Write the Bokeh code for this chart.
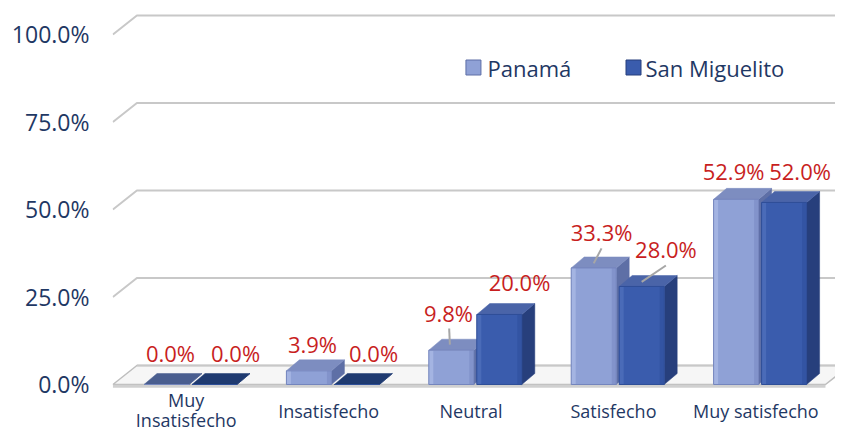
from bokeh.plotting import figure
from bokeh.models import Range1d, FixedTicker, PrintfTickFormatter, ColumnDataSource
from bokeh.core.properties import value
from bokeh.embed import file_html
from bokeh.resources import INLINE

# ---------------- data ----------------
categories = ["Muy Insatisfecho", "Insatisfecho", "Neutral", "Satisfecho", "Muy satisfecho"]
cat_display = ["Muy\nInsatisfecho", "Insatisfecho", "Neutral", "Satisfecho", "Muy satisfecho"]
panama = [0.0, 3.9, 9.8, 33.3, 52.9]
san_miguelito = [0.0, 0.0, 20.0, 28.0, 52.0]
series_names = ["Panamá", "San Miguelito"]
y_ticks = [0, 25, 50, 75, 100]

# ---------------- style / geometry ----------------
FONT = "Open Sans"
NAVY = "#1F3864"
RED = "#C81E1E"
GRID = "#C8C8C8"
BAR_W = 0.316
GAP = 0.0105
BDX, BDY = 0.0913, 3.14     # bar depth (x units, % units)
WDX, WDY = 0.1685, 5.43     # wall depth

styles = {
    "Panamá": dict(front="#8FA1D6", hi="#A4B4E2", sh="#8293CB", top="#7D8DC0",
                   side="#5E6FA6", zero="#4A5E8F", edge="#7485BD"),
    "San Miguelito": dict(front="#3A5CAD", hi="#4A6BB8", sh="#3354A3", top="#4A64A8",
                          side="#273F7C", zero="#1F3A70", edge="#2F4E98"),
}

# label nudges (category units, % units) relative to bar front-centre / bar value
pan_nudge = [(0.028, 8.9), (0.025, 7.8), (-0.02, 10.5), (0.055, 10.4), (-0.018, 8.2)]
sm_nudge = [(0.148, 8.9), (0.117, 8.9), (0.142, 9.4), (0.17, 10.8), (0.112, 9.1)]
pan_leader = [False, False, True, True, False]
sm_leader = [False, False, False, True, False]

x0, x1 = -0.5478, 4.5295
p = figure(width=835, height=431, output_backend="svg", toolbar_location=None,
           x_range=Range1d(x0, x1), y_range=Range1d(-13.4286, 109.714),
           x_axis_location=None, min_border_left=112, min_border_right=0,
           min_border_top=0, min_border_bottom=0)
p.xgrid.visible = False
p.ygrid.visible = False
p.outline_line_color = None
p.background_fill_color = "white"
p.border_fill_color = "white"

ax = p.yaxis[0]
ax.ticker = FixedTicker(ticks=y_ticks)
ax.formatter = PrintfTickFormatter(format="%.1f%%")
ax.axis_line_color = None
ax.major_tick_line_color = None
ax.minor_tick_line_color = None
ax.major_tick_out = 0
ax.major_tick_in = 0
ax.major_label_standoff = 23
ax.major_label_text_font = FONT
ax.major_label_text_font_size = "23px"
ax.major_label_text_color = NAVY

# ---------------- floor & walls ----------------
fl, fr = -0.545, 4.459
p.patch([fl, fr, fr + WDX, fl + WDX], [0, 0, WDY, WDY],
        fill_color="#F6F6F6", line_color="#BEBEBE", line_width=1.5)
p.line([fl, fr], [-0.5, -0.5], line_color="#D0D0D0", line_width=3)

gx, gy = [], []
for g in y_ticks:
    if g == 0:
        gx.append([fl + WDX, x1 + 0.1]); gy.append([WDY, WDY])
    else:
        gx.append([fl, fl + WDX, x1 + 0.1]); gy.append([g, g + WDY, g + WDY])
p.multi_line(gx, gy, line_color=GRID, line_width=2)

# ---------------- bars ----------------
def draw_series(vals, name, left_off):
    st = styles[name]
    lefts = [i + left_off for i in range(len(vals))]
    rights = [l + BAR_W for l in lefts]
    side_xs, side_ys, top_xs, top_ys, top_cols = [], [], [], [], []
    for l, r, v in zip(lefts, rights, vals):
        side_xs.append([r, r + BDX, r + BDX, r]); side_ys.append([0, BDY, v + BDY, v])
        top_xs.append([l, l + BDX, r + BDX, r]); top_ys.append([v, v + BDY, v + BDY, v])
        top_cols.append(st["zero"] if v == 0 else st["top"])
    p.patches(side_xs, side_ys, fill_color=st["side"], line_color=st["side"], line_width=0.5)
    p.patches(xs="xs", ys="ys", fill_color="c", line_color="c", line_width=0.5,
              source=ColumnDataSource(dict(xs=top_xs, ys=top_ys, c=top_cols)))
    zeros = [0] * len(vals)
    p.quad(left=lefts, right=rights, bottom=zeros, top=vals, fill_color=st["front"], line_color=None)
    # soft shading strips on the front face (left highlight, right shade)
    p.quad(left=lefts, right=[l + 0.1 * BAR_W for l in lefts], bottom=zeros, top=vals,
           fill_color=st["hi"], line_color=None)
    p.quad(left=[r - 0.1 * BAR_W for r in rights], right=rights, bottom=zeros, top=vals,
           fill_color=st["sh"], line_color=None)
    p.quad(left=lefts, right=rights, bottom=zeros, top=vals,
           fill_color=None, line_color=st["edge"], line_width=1)
    return [(l + r) / 2 for l, r in zip(lefts, rights)]

pan_c = draw_series(panama, "Panamá", -GAP - BAR_W)
sm_c = draw_series(san_miguelito, "San Miguelito", GAP)

# ---------------- data labels ----------------
lx, ly, lt = [], [], []
ldx, ldy = [], []
for cs, vals, nud, lead in ((pan_c, panama, pan_nudge, pan_leader),
                            (sm_c, san_miguelito, sm_nudge, sm_leader)):
    for c, v, (dx, dy), ld in zip(cs, vals, nud, lead):
        tx, ty = c + dx, v + dy
        lx.append(tx); ly.append(ty); lt.append(f"{v:.1f}%")
        if ld and v > 20:
            ldx.append([tx, c]); ldy.append([ty - 4.8, v + 1.3])
        elif ld:
            ldx.append([tx + 0.005, c - 0.01]); ldy.append([ty - 4.3, v + 1.6])
p.multi_line(ldx, ldy, line_color="#A6A6A6", line_width=2)
p.text(lx, ly, text=lt, text_font=value(FONT), text_font_size="22px",
       text_color=RED, text_align="center", text_baseline="middle")

# ---------------- category labels ----------------
single_x, single_t, first_x, first_t, second_x, second_t = [], [], [], [], [], []
for i, s in enumerate(cat_display):
    parts = s.split("\n")
    if len(parts) == 1:
        single_x.append(i - 0.03); single_t.append(parts[0])
    else:
        first_x.append(i - 0.03); first_t.append(parts[0])
        second_x.append(i - 0.03); second_t.append(parts[1])
for xs_, ts_, yv in ((single_x, single_t, -7.43), (first_x, first_t, -4.4), (second_x, second_t, -10.1)):
    p.text(xs_, [yv] * len(xs_), text=ts_, text_font=value(FONT), text_font_size="18px",
           text_color=NAVY, text_align="center", text_baseline="middle")

# ---------------- legend ----------------
leg_x = [1.987, 3.111]
leg_y = [90.57, 90.57]
p.scatter(leg_x, leg_y, marker="square", size=15,
          fill_color=[styles[n]["front"] for n in series_names],
          line_color=[styles[n]["side"] for n in series_names], line_width=1)
p.text([2.086, 3.195], leg_y, text=series_names, text_font=value(FONT),
       text_font_size="22px", text_color=NAVY, text_align="left", text_baseline="middle")

open("out.html", "w").write(file_html(p, INLINE))
